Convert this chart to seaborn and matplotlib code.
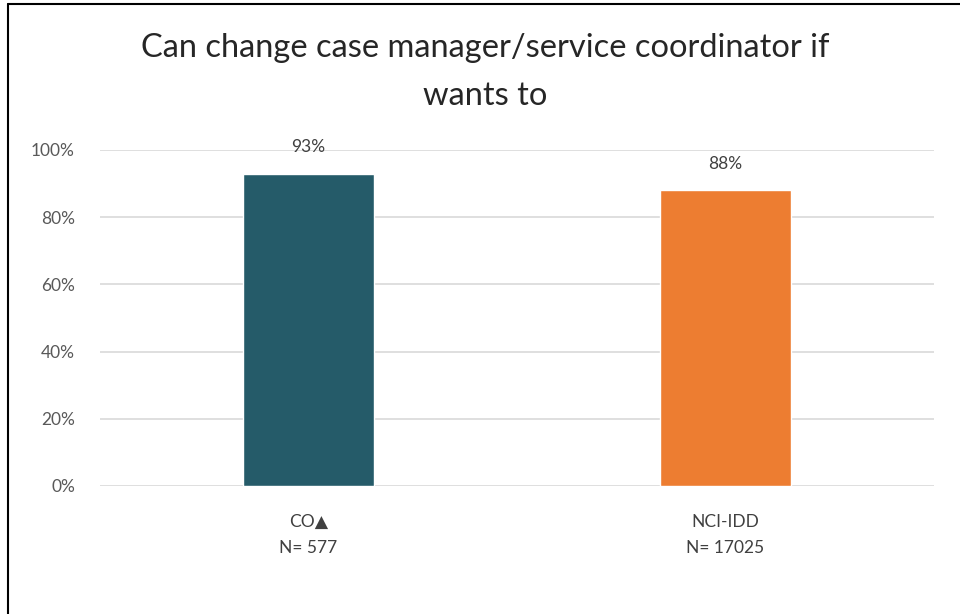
import numpy as np
import pandas as pd
import seaborn as sns
import matplotlib.pyplot as plt
from matplotlib.lines import Line2D
from matplotlib.ticker import PercentFormatter

# chart data
groups = ['CO\u25B2\nN= 577', 'NCI-IDD\nN= 17025']
values = [93, 88]
colors = ['#255B69', '#ED7D31']

df = pd.DataFrame({'group': groups, 'pct': values})

sns.set_style('white')
plt.rcParams['font.family'] = ['Lato', 'DejaVu Sans']

fig = plt.figure(figsize=(9.6, 6.14), dpi=100)
ax = fig.add_axes([100 / 960, 1 - 486 / 614, 834 / 960, 336 / 614])

sns.barplot(data=df, x='group', y='pct', hue='group', palette=colors,
            width=0.315, legend=False, ax=ax, saturation=1)

ax.set_ylim(0, 100)
ax.set_xlim(-0.5, 1.5)
ax.set_yticks(np.arange(0, 101, 20))
ax.yaxis.set_major_formatter(PercentFormatter(decimals=0))
ax.grid(axis='y', color='#D9D9D9', linewidth=1.2)
ax.set_axisbelow(True)
for s in ax.spines.values():
    s.set_visible(False)
ax.tick_params(axis='y', length=0, pad=18, labelsize=12.5, labelcolor='#595959')
ax.tick_params(axis='x', length=0, pad=20, labelsize=12.5, labelcolor='#404040')
for lbl in ax.get_xticklabels():
    lbl.set_linespacing(1.75)
ax.set_xlabel('')
ax.set_ylabel('')

for c in ax.containers:
    ax.bar_label(c, labels=[f'{v:.0f}%' for v in c.datavalues], padding=13,
                 fontsize=12.5, color='#404040')

fig.text(0.505, 1 - 48 / 614, 'Can change case manager/service coordinator if',
         ha='center', va='center', fontsize=23.5, color='#262626')
fig.text(0.505, 1 - 96 / 614, 'wants to',
         ha='center', va='center', fontsize=23.5, color='#262626')

# outer frame pieces visible in the reference
fig.add_artist(Line2D([8 / 960, 1], [1 - 4 / 614, 1 - 4 / 614], color='black', lw=1.5))
fig.add_artist(Line2D([8 / 960, 8 / 960], [0, 1 - 4 / 614], color='black', lw=1.5))

fig.savefig('out.png', dpi=100, facecolor='white')
